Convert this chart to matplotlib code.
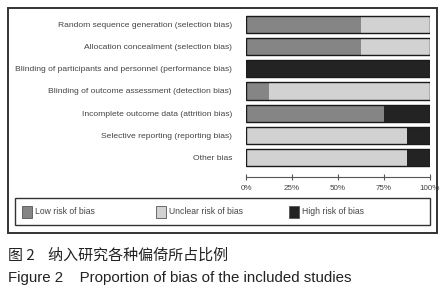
import matplotlib.pyplot as plt
from matplotlib.patches import Rectangle

domains = [
    "Random sequence generation (selection bias)",
    "Allocation concealment (selection bias)",
    "Blinding of participants and personnel (performance bias)",
    "Blinding of outcome assessment (detection bias)",
    "Incomplete outcome data (attrition bias)",
    "Selective reporting (reporting bias)",
    "Other bias",
]
low = [62.5, 62.5, 0, 12.5, 75, 0, 0]
unclear = [37.5, 37.5, 0, 87.5, 0, 87.5, 87.5]
high = [0, 0, 100, 0, 25, 12.5, 12.5]
ticks = [0, 25, 50, 75, 100]
tick_labels = ["0%", "25%", "50%", "75%", "100%"]
legend_labels = ["Low risk of bias", "Unclear risk of bias", "High risk of bias"]
colors = ["#858585", "#d2d2d2", "#232323"]

plt.rcParams['font.family'] = ['Liberation Sans', 'Noto Sans CJK SC', 'DejaVu Sans']

fig = plt.figure(figsize=(4.46, 3.0), dpi=100)
W, H = 446, 300

# outer frame
fig.patches.append(Rectangle((8 / W, 1 - 233 / H), 429 / W, 225 / H,
                             transform=fig.transFigure, fill=False,
                             edgecolor="#333333", linewidth=1.4))

ax = fig.add_axes([246 / W, 1 - 177 / H, 184 / W, 163.4 / H])
y = list(range(len(domains)))
ax.barh(y, low, height=0.77, color=colors[0], linewidth=0)
ax.barh(y, unclear, left=low, height=0.77, color=colors[1], linewidth=0)
left_high = [a + b for a, b in zip(low, unclear)]
ax.barh(y, high, left=left_high, height=0.77, color=colors[2], linewidth=0)
ax.barh(y, [100] * len(y), height=0.77, fill=False, edgecolor="#1a1a1a", linewidth=1.0)

ax.set_xlim(0, 100)
ax.set_ylim(6.89, -0.5)
ax.set_yticks(y)
ax.set_yticklabels(domains, fontsize=6.1, color="#444444")
ax.tick_params(axis="y", length=0, pad=10)
ax.set_xticks(ticks)
ax.set_xticklabels(tick_labels, fontsize=5.8, color="#444444")
ax.tick_params(axis="x", direction="inout", length=5, width=0.8, color="#555555", pad=3.5)
for s in ["top", "right", "left"]:
    ax.spines[s].set_visible(False)
ax.spines["bottom"].set_color("#555555")
ax.spines["bottom"].set_linewidth(0.8)

# legend box
fig.patches.append(Rectangle((15 / W, 1 - 225 / H), 415 / W, 27 / H,
                             transform=fig.transFigure, fill=False,
                             edgecolor="#333333", linewidth=1.0))
for lx, lab, c in zip([22, 156, 289], legend_labels, colors):
    fig.patches.append(Rectangle((lx / W, 1 - 218 / H), 10 / W, 12 / H,
                                 transform=fig.transFigure, facecolor=c,
                                 edgecolor="#555555", linewidth=0.6))
    fig.text((lx + 13) / W, 1 - 212 / H, lab, fontsize=6.2, color="#444444", va="center")

fig.text(8 / W, 1 - 256 / H, "图 2    纳入研究各种偏倚所占比例", fontsize=10.8,
         va="center", family=['Noto Sans CJK SC', 'DejaVu Sans'], color="#222222")
fig.text(8 / W, 1 - 278 / H, "Figure 2    Proportion of bias of the included studies",
         fontsize=10.8, va="center", color="#222222")

fig.savefig("out.png", dpi=100)
